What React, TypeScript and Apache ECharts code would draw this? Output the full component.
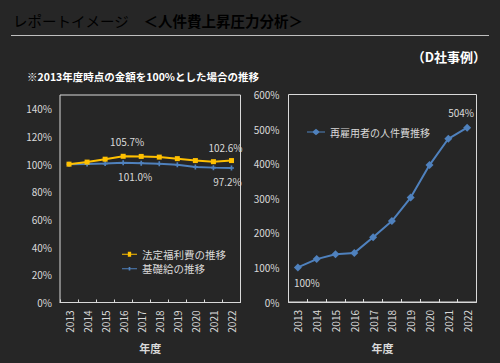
import React, { useEffect, useRef } from "react";
import * as echarts from "echarts";

const years = ["2013", "2014", "2015", "2016", "2017", "2018", "2019", "2020", "2021", "2022"];
const welfareCost = [100, 101.5, 103.6, 105.7, 105.6, 105.1, 104.0, 102.6, 101.8, 102.6];
const baseSalary = [100, 100.1, 100.4, 101.0, 100.7, 100.3, 99.6, 98.0, 97.5, 97.2];
const reemployedCost = [100, 124, 138, 142, 187, 234, 302, 396, 472, 504];

const FONT = "'Noto Sans CJK JP', 'Noto Sans', sans-serif";
const TXT = "#d9d9d9";
const YELLOW = "#FFC000";
const BLUE = "#4F81BD";

function labeled(values: number[], cfg: Record<number, any>, fmt: (v: number) => string) {
  return values.map((v, i) =>
    cfg[i]
      ? {
          value: v,
          label: {
            show: true,
            formatter: fmt(v),
            color: TXT,
            fontSize: 10,
            fontFamily: FONT,
            ...cfg[i],
          },
        }
      : v
  );
}

export default function App() {
  const ref = useRef<HTMLDivElement>(null);
  useEffect(() => {
    if (!ref.current) return;
    const chart = echarts.init(ref.current, undefined, { renderer: "svg" });
    const axisLabelY = { color: TXT, fontSize: 10, fontFamily: FONT, formatter: "{value}%", showMaxLabel: false };
    const xAxisCommon = {
      type: "category" as const,
      data: years,
      boundaryGap: true,
      axisLine: { show: true, lineStyle: { color: TXT, width: 1 } },
      axisTick: { show: true, inside: true, length: 3, lineStyle: { color: TXT } },
      axisLabel: { rotate: 90, color: TXT, fontSize: 10, fontFamily: FONT, margin: 8 },
      name: "年度",
      nameLocation: "middle" as const,
      nameGap: 40,
      nameTextStyle: { color: TXT, fontSize: 11, fontWeight: "bold" as const, fontFamily: FONT },
    };
    const fmt1 = (v: number) => v.toFixed(1) + "%";
    const fmt0 = (v: number) => v.toFixed(0) + "%";
    const crossPath = "path://M2,0 L4,0 L4,2 L6,2 L6,4 L4,4 L4,6 L2,6 L2,4 L0,4 L0,2 L2,2 Z";
    chart.setOption({
      animation: false,
      backgroundColor: "#262626",
      textStyle: { fontFamily: FONT },
      graphic: [
        {
          type: "text",
          left: 13,
          top: 13,
          style: {
            text: "{a|レポートイメージ　}{b|＜人件費上昇圧力分析＞}",
            rich: {
              a: { fontSize: 14.5, color: "#e6e6e6", fontFamily: FONT },
              b: { fontSize: 14.5, color: "#ffffff", fontWeight: "bold", fontFamily: FONT },
            },
          },
        },
        {
          type: "line",
          shape: { x1: 11, y1: 35.5, x2: 489, y2: 35.5 },
          style: { stroke: "#bfbfbf", lineWidth: 1 },
        },
        {
          type: "text",
          right: 14,
          top: 50,
          style: { text: "（D社事例）", fontSize: 13, fontWeight: "bold", fill: "#ffffff", fontFamily: FONT },
        },
        {
          type: "text",
          left: 27,
          top: 71,
          style: {
            text: "※2013年度時点の金額を100%とした場合の推移",
            fontSize: 10.5,
            fontWeight: "bold",
            fill: "#ffffff",
            fontFamily: FONT,
          },
        },
      ],
      legend: [
        {
          orient: "vertical",
          left: 117,
          top: 244,
          itemGap: 4,
          itemWidth: 15,
          itemHeight: 6,
          textStyle: { color: TXT, fontSize: 10.5, fontFamily: FONT },
          data: [
            { name: "法定福利費の推移", icon: "path://M0,2.5 L7,2.5 L7,0 L11,0 L11,2.5 L18,2.5 L18,3.5 L11,3.5 L11,6 L7,6 L7,3.5 L0,3.5 Z", itemStyle: { color: YELLOW } },
            { name: "基礎給の推移", icon: "path://M0,2.5 L8,2.5 L8,1 L10,1 L10,2.5 L18,2.5 L18,3.5 L10,3.5 L10,5 L8,5 L8,3.5 L0,3.5 Z", itemStyle: { color: BLUE } },
          ],
        },
        {
          orient: "vertical",
          left: 302,
          top: 122,
          itemWidth: 18,
          itemHeight: 7,
          textStyle: { color: TXT, fontSize: 10, fontFamily: FONT },
          data: [
            { name: "再雇用者の人件費推移", icon: "path://M0,3 L6,3 L9.5,0 L13,3 L19,3 L19,4 L13,4 L9.5,7 L6,4 L0,4 Z", itemStyle: { color: BLUE } },
          ],
        },
      ],
      grid: [
        { left: 60, top: 95, width: 180.5, height: 207.5, show: true, borderColor: TXT, borderWidth: 1, backgroundColor: "transparent" },
        { left: 288.5, top: 94.5, width: 188, height: 207.5, show: true, borderColor: TXT, borderWidth: 1, backgroundColor: "transparent" },
      ],
      xAxis: [
        { ...xAxisCommon, gridIndex: 0 },
        { ...xAxisCommon, gridIndex: 1 },
      ],
      yAxis: [
        {
          gridIndex: 0,
          type: "value",
          min: 0,
          max: 150,
          interval: 20,
          axisLine: { show: false },
          axisTick: { show: false },
          splitLine: { show: false },
          axisLabel: { ...axisLabelY, margin: 8 },
        },
        {
          gridIndex: 1,
          type: "value",
          min: 0,
          max: 600,
          interval: 100,
          axisLine: { show: false },
          axisTick: { show: false },
          splitLine: { show: false },
          axisLabel: { ...axisLabelY, showMaxLabel: true, margin: 9 },
        },
      ],
      series: [
        {
          name: "法定福利費の推移",
          type: "line",
          xAxisIndex: 0,
          yAxisIndex: 0,
          data: labeled(
            welfareCost,
            { 3: { position: "top", offset: [4, -2] }, 9: { position: "top", offset: [-6, -1] } },
            fmt1
          ),
          lineStyle: { color: YELLOW, width: 2 },
          itemStyle: { color: YELLOW },
          symbol: "rect",
          symbolSize: 5,
          z: 3,
        },
        {
          name: "基礎給の推移",
          type: "line",
          xAxisIndex: 0,
          yAxisIndex: 0,
          data: labeled(
            baseSalary,
            { 3: { position: "bottom", offset: [12, 1] }, 9: { position: "bottom", offset: [-4, 1] } },
            fmt1
          ),
          lineStyle: { color: BLUE, width: 2 },
          itemStyle: { color: BLUE },
          symbol: crossPath,
          symbolSize: 5,
          z: 2,
        },
        {
          name: "再雇用者の人件費推移",
          type: "line",
          xAxisIndex: 1,
          yAxisIndex: 1,
          data: labeled(
            reemployedCost,
            { 0: { position: "bottom", offset: [9, 1] }, 9: { position: "top", offset: [-6, -1] } },
            fmt0
          ),
          lineStyle: { color: BLUE, width: 2 },
          itemStyle: { color: BLUE },
          symbol: "diamond",
          symbolSize: 8,
        },
      ],
    });
    return () => chart.dispose();
  }, []);
  return <div ref={ref} style={{ position: "fixed", left: 0, top: 0, width: 500, height: 363 }} />;
}
